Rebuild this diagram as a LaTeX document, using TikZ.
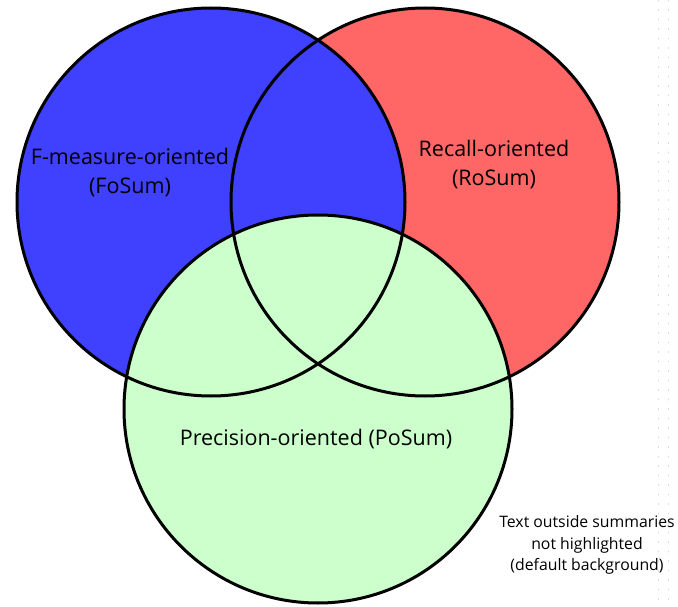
\documentclass[tikz,border=0pt]{standalone}
\usepackage{fontspec}
\setmainfont{Open Sans}
\definecolor{fosum}{RGB}{64,64,255}
\definecolor{rosum}{RGB}{255,102,102}
\definecolor{posum}{RGB}{204,255,204}
\tikzset{
  ring/.style={line width=3pt,draw=black},
  setlabel/.style={align=center,font=\fontsize{21.5}{29}\selectfont,inner sep=0pt},
  notelabel/.style={align=center,font=\fontsize{15.8}{21.5}\selectfont,inner sep=0pt}
}
\begin{document}
\begin{tikzpicture}[x=1pt,y=-1pt,line join=round,line cap=round]
	\useasboundingbox (0,0) rectangle (678,607);
	% faint grid dots on the right
	\draw[gray!30,line width=1pt,dash pattern=on 1pt off 8.5pt] (658,0)--(658,607);
	\draw[gray!30,line width=1pt,dash pattern=on 1pt off 8.5pt] (668,0)--(668,607);
	% fills: red first, then blue, then green on top
	\fill[rosum] (425,202) circle [radius=194pt];
	\fill[fosum] (211,202) circle [radius=194pt];
	\fill[posum] (318,409) circle [radius=194pt];
	% outlines
	\draw[ring] (425,202) circle [radius=194pt];
	\draw[ring] (211,202) circle [radius=194pt];
	\draw[ring] (318,409) circle [radius=194pt];
	% labels
	\node[setlabel] (fo) at (130,173) {F-measure-oriented\\(FoSum)};
	\node[setlabel] (ro) at (494,165) {Recall-oriented\\(RoSum)};
	\node[setlabel] (po) at (316,439) {Precision-oriented (PoSum)};
	\node[notelabel] (note) at (587,545) {Text outside summaries\\not highlighted\\(default background)};
\end{tikzpicture}
\end{document}
